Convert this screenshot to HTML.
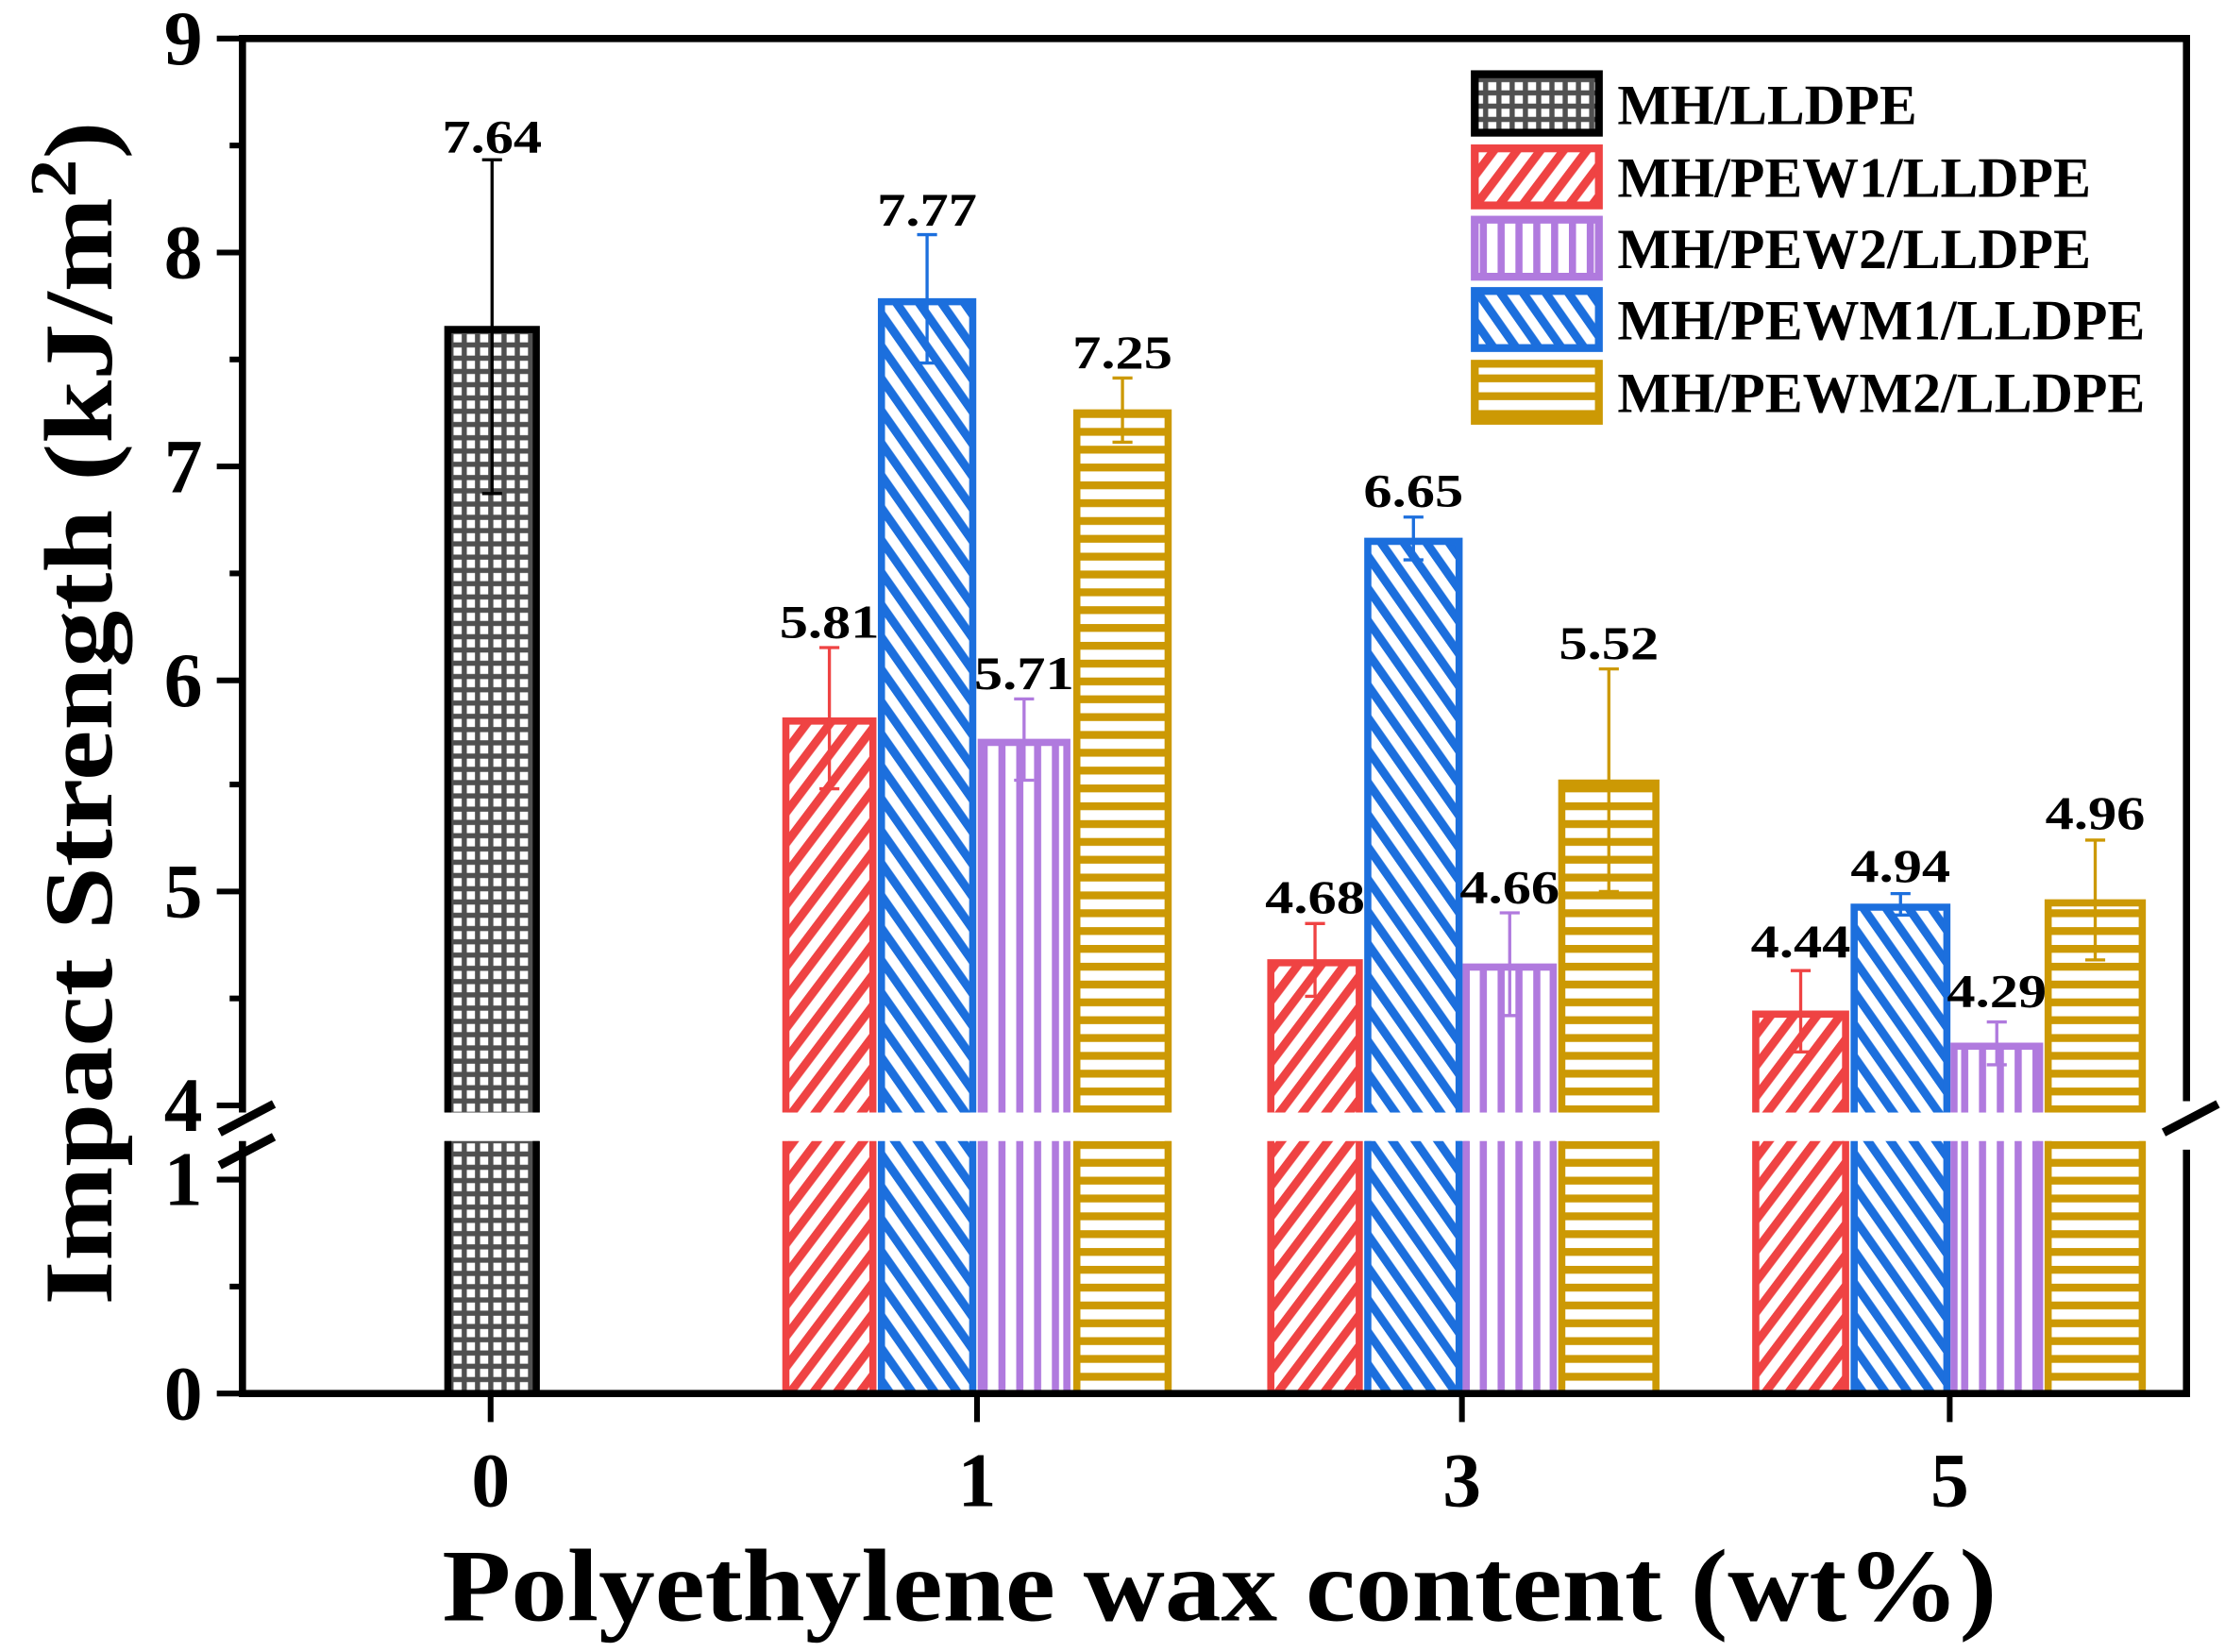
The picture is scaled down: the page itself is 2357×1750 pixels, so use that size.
<!DOCTYPE html>
<html><head><meta charset="utf-8"><style>html,body{margin:0;padding:0;background:#fff}svg{display:block}</style></head>
<body>
<svg width="2357" height="1750" viewBox="0 0 1560 1158.2" xmlns="http://www.w3.org/2000/svg" font-family="'Liberation Serif', 'Times New Roman', serif" font-weight="bold">
<defs>
<pattern id="pk" patternUnits="userSpaceOnUse" width="9.3" height="9.3"><rect width="9.3" height="9.3" fill="#505050"/><rect x="1.8" y="1.8" width="5.7" height="5.7" fill="#fff"/></pattern>
<pattern id="pr" patternUnits="userSpaceOnUse" width="13" height="13" patternTransform="rotate(37)"><rect width="13" height="13" fill="#fff"/><rect width="6" height="13" fill="#ef4343"/></pattern>
<pattern id="pb" patternUnits="userSpaceOnUse" width="13" height="13" patternTransform="rotate(-35)"><rect width="13" height="13" fill="#fff"/><rect width="6" height="13" fill="#1c6fdd"/></pattern>
<pattern id="pp" patternUnits="userSpaceOnUse" width="12.5" height="12.5"><rect width="12.5" height="12.5" fill="#fff"/><rect width="5" height="12.5" fill="#b07ade"/></pattern>
<pattern id="pg" patternUnits="userSpaceOnUse" width="12.5" height="12.5"><rect width="12.5" height="12.5" fill="#fff"/><rect width="12.5" height="5.5" fill="#cc9904"/></pattern>
</defs>
<g stroke-width="5" fill="none">
<rect x="312" y="229" width="66" height="551" fill="url(#pk)" stroke="none"/><rect x="312" y="800" width="66" height="177" fill="url(#pk)" stroke="none"/>
<path d="M314 780V231H376V780M314 800V977M376 800V977" stroke="#000"/>
<rect x="549" y="503.5" width="65" height="276.5" fill="url(#pr)" stroke="none"/><rect x="549" y="800" width="65" height="177" fill="url(#pr)" stroke="none"/>
<path d="M551 780V505.5H612V780M551 800V977M612 800V977" stroke="#ef4343"/>
<rect x="616" y="209.5" width="68" height="570.5" fill="url(#pb)" stroke="none"/><rect x="616" y="800" width="68" height="177" fill="url(#pb)" stroke="none"/>
<path d="M618 780V211.5H682V780M618 800V977M682 800V977" stroke="#1c6fdd"/>
<rect x="686" y="518.5" width="64" height="261.5" fill="url(#pp)" stroke="none"/><rect x="686" y="800" width="64" height="177" fill="url(#pp)" stroke="none"/>
<path d="M688 780V520.5H748V780M688 800V977M748 800V977" stroke="#b07ade"/>
<rect x="753" y="287.5" width="68" height="492.5" fill="url(#pg)" stroke="none"/><rect x="753" y="800" width="68" height="177" fill="url(#pg)" stroke="none"/>
<path d="M755 780V289.5H819V780M755 800V977M819 800V977" stroke="#cc9904"/>
<rect x="889" y="673" width="66" height="107" fill="url(#pr)" stroke="none"/><rect x="889" y="800" width="66" height="177" fill="url(#pr)" stroke="none"/>
<path d="M891 780V675H953V780M891 800V977M953 800V977" stroke="#ef4343"/>
<rect x="957" y="377.5" width="68" height="402.5" fill="url(#pb)" stroke="none"/><rect x="957" y="800" width="68" height="177" fill="url(#pb)" stroke="none"/>
<path d="M959 780V379.5H1023V780M959 800V977M1023 800V977" stroke="#1c6fdd"/>
<rect x="1026" y="676" width="65" height="104" fill="url(#pp)" stroke="none"/><rect x="1026" y="800" width="65" height="177" fill="url(#pp)" stroke="none"/>
<path d="M1028 780V678H1089V780M1028 800V977M1089 800V977" stroke="#b07ade"/>
<rect x="1093" y="547" width="70" height="233" fill="url(#pg)" stroke="none"/><rect x="1093" y="800" width="70" height="177" fill="url(#pg)" stroke="none"/>
<path d="M1095 780V549H1161V780M1095 800V977M1161 800V977" stroke="#cc9904"/>
<rect x="1229" y="709" width="67" height="71" fill="url(#pr)" stroke="none"/><rect x="1229" y="800" width="67" height="177" fill="url(#pr)" stroke="none"/>
<path d="M1231 780V711H1294V780M1231 800V977M1294 800V977" stroke="#ef4343"/>
<rect x="1298" y="634" width="69" height="146" fill="url(#pb)" stroke="none"/><rect x="1298" y="800" width="69" height="177" fill="url(#pb)" stroke="none"/>
<path d="M1300 780V636H1365V780M1300 800V977M1365 800V977" stroke="#1c6fdd"/>
<rect x="1368" y="731.5" width="64" height="48.5" fill="url(#pp)" stroke="none"/><rect x="1368" y="800" width="64" height="177" fill="url(#pp)" stroke="none"/>
<path d="M1370 780V733.5H1430V780M1370 800V977M1430 800V977" stroke="#b07ade"/>
<rect x="1434" y="631" width="70" height="149" fill="url(#pg)" stroke="none"/><rect x="1434" y="800" width="70" height="177" fill="url(#pg)" stroke="none"/>
<path d="M1436 780V633H1502V780M1436 800V977M1502 800V977" stroke="#cc9904"/>
</g>
<g stroke-width="2.2" fill="none">
<path d="M345 112V346M338 112H352M338 346H352" stroke="#000"/>
<path d="M581.5 454V553M574.5 454H588.5M574.5 553H588.5" stroke="#ef4343"/>
<path d="M650 164.5V254.5M643 164.5H657M643 254.5H657" stroke="#1c6fdd"/>
<path d="M718 490V547M711 490H725M711 547H725" stroke="#b07ade"/>
<path d="M787 265V310M780 265H794M780 310H794" stroke="#cc9904"/>
<path d="M922 647.5V698.5M915 647.5H929M915 698.5H929" stroke="#ef4343"/>
<path d="M991 362.5V392.5M984 362.5H998M984 392.5H998" stroke="#1c6fdd"/>
<path d="M1058.5 640V712M1051.5 640H1065.5M1051.5 712H1065.5" stroke="#b07ade"/>
<path d="M1128 469V625M1121 469H1135M1121 625H1135" stroke="#cc9904"/>
<path d="M1262.5 680.5V737.5M1255.5 680.5H1269.5M1255.5 737.5H1269.5" stroke="#ef4343"/>
<path d="M1332.5 626.5V641.5M1325.5 626.5H1339.5M1325.5 641.5H1339.5" stroke="#1c6fdd"/>
<path d="M1400 716.5V746.5M1393 716.5H1407M1393 746.5H1407" stroke="#b07ade"/>
<path d="M1469 589V673M1462 589H1476M1462 673H1476" stroke="#cc9904"/>
</g>
<g font-size="33" text-anchor="middle">
<text x="345" y="107" textLength="70" lengthAdjust="spacingAndGlyphs">7.64</text>
<text x="581.5" y="447" textLength="70" lengthAdjust="spacingAndGlyphs">5.81</text>
<text x="650" y="158" textLength="70" lengthAdjust="spacingAndGlyphs">7.77</text>
<text x="718" y="483" textLength="70" lengthAdjust="spacingAndGlyphs">5.71</text>
<text x="787" y="258" textLength="70" lengthAdjust="spacingAndGlyphs">7.25</text>
<text x="922" y="640" textLength="70" lengthAdjust="spacingAndGlyphs">4.68</text>
<text x="991" y="355" textLength="70" lengthAdjust="spacingAndGlyphs">6.65</text>
<text x="1058.5" y="633" textLength="70" lengthAdjust="spacingAndGlyphs">4.66</text>
<text x="1128" y="462" textLength="70" lengthAdjust="spacingAndGlyphs">5.52</text>
<text x="1262.5" y="671" textLength="70" lengthAdjust="spacingAndGlyphs">4.44</text>
<text x="1332.5" y="618" textLength="70" lengthAdjust="spacingAndGlyphs">4.94</text>
<text x="1400" y="706" textLength="70" lengthAdjust="spacingAndGlyphs">4.29</text>
<text x="1469" y="581" textLength="70" lengthAdjust="spacingAndGlyphs">4.96</text>
</g>
<g stroke="#000" stroke-width="5" fill="none">
<path d="M170 780 V27 H1533 V772"/>
<path d="M170 800 V977 H1533 V806"/>
</g>
<g stroke="#000" stroke-width="4">
<line x1="152" y1="27" x2="170" y2="27"/><line x1="152" y1="177" x2="170" y2="177"/><line x1="152" y1="327" x2="170" y2="327"/><line x1="152" y1="477" x2="170" y2="477"/><line x1="152" y1="625" x2="170" y2="625"/><line x1="152" y1="775" x2="170" y2="775"/>
<line x1="161" y1="102" x2="170" y2="102"/><line x1="161" y1="252" x2="170" y2="252"/><line x1="161" y1="402" x2="170" y2="402"/><line x1="161" y1="550" x2="170" y2="550"/><line x1="161" y1="700" x2="170" y2="700"/>
<line x1="152" y1="827" x2="170" y2="827"/><line x1="152" y1="977" x2="170" y2="977"/><line x1="161" y1="902" x2="170" y2="902"/>
<line x1="344" y1="977" x2="344" y2="997"/><line x1="685" y1="977" x2="685" y2="997"/><line x1="1025" y1="977" x2="1025" y2="997"/><line x1="1367" y1="977" x2="1367" y2="997"/>
</g>
<g stroke="#000" stroke-width="6">
<line x1="154" y1="794" x2="192" y2="774"/><line x1="154" y1="817" x2="192" y2="797"/>
<line x1="1517" y1="794" x2="1555" y2="774"/>
</g>
<g font-size="54" text-anchor="end">
<text x="142" y="45">9</text><text x="142" y="195">8</text><text x="142" y="345">7</text><text x="142" y="495">6</text><text x="142" y="643">5</text><text x="142" y="793">4</text><text x="142" y="845">1</text><text x="142" y="995">0</text>
</g>
<g font-size="54" text-anchor="middle">
<text x="344" y="1056">0</text><text x="685" y="1056">1</text><text x="1025" y="1056">3</text><text x="1367" y="1056">5</text>
</g>
<text x="855" y="1136" font-size="72" text-anchor="middle" textLength="1090" lengthAdjust="spacingAndGlyphs">Polyethylene wax content (wt%)</text>
<text transform="translate(78,500) rotate(-90)" font-size="68" text-anchor="middle" textLength="830" lengthAdjust="spacingAndGlyphs">Impact Strength (kJ/m<tspan baseline-shift="super" font-size="46">2</tspan>)</text>
<g stroke-width="5.5">
<rect x="1034" y="52" width="87" height="41" fill="url(#pk)" stroke="#000"/>
<rect x="1034" y="104" width="87" height="40" fill="url(#pr)" stroke="#ef4343"/>
<rect x="1034" y="154" width="87" height="40" fill="url(#pp)" stroke="#b07ade"/>
<rect x="1034" y="204" width="87" height="40" fill="url(#pb)" stroke="#1c6fdd"/>
<rect x="1034" y="255" width="87" height="40" fill="url(#pg)" stroke="#cc9904"/>
</g>
<g font-size="40">
<text x="1134" y="87" textLength="210" lengthAdjust="spacingAndGlyphs">MH/LLDPE</text>
<text x="1134" y="138" textLength="332" lengthAdjust="spacingAndGlyphs">MH/PEW1/LLDPE</text>
<text x="1134" y="188" textLength="332" lengthAdjust="spacingAndGlyphs">MH/PEW2/LLDPE</text>
<text x="1134" y="238" textLength="370" lengthAdjust="spacingAndGlyphs">MH/PEWM1/LLDPE</text>
<text x="1134" y="289" textLength="370" lengthAdjust="spacingAndGlyphs">MH/PEWM2/LLDPE</text>
</g>
</svg>
</body></html>
